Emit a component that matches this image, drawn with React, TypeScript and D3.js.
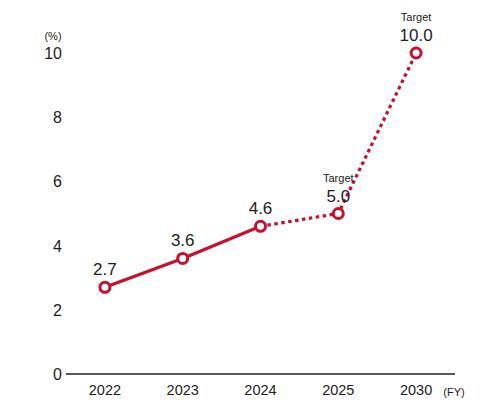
import React from "react";
import * as d3 from "d3";

const categories = ["2022", "2023", "2024", "2025", "2030"];
const values = [2.7, 3.6, 4.6, 5.0, 10.0];
const targetFlags = [false, false, false, true, true];
const yTicks = [0, 2, 4, 6, 8, 10];

const W = 500;
const H = 402;
const RED = "#c8102e";
const FONT = "'Liberation Sans', Arial, Helvetica, sans-serif";

export default function App() {
  const x = d3.scaleBand<string>().domain(categories).range([66, 455]);
  const y = d3.scaleLinear().domain([0, 10]).range([374, 53]);
  const cx = (c: string) => (x(c) as number) + x.bandwidth() / 2;
  const pts = categories.map((c, i) => [cx(c), y(values[i])] as [number, number]);
  const line = d3.line();
  const solid = line(pts.slice(0, 3)) as string;
  const dotted = line(pts.slice(2)) as string;

  return (
    <svg width={W} height={H} style={{ position: "absolute", left: 0, top: 0, background: "#fff" }} fontFamily={FONT}>
      <text x={53} y={40} fontSize={11} textAnchor="middle" fill="#222">(%)</text>
      {yTicks.map((t) => (
        <text key={t} x={62} y={y(t) + 6} fontSize={16} textAnchor="end" fill="#222">{t}</text>
      ))}
      <line x1={66} x2={455} y1={y(0)} y2={y(0)} stroke="#222" strokeWidth={1.5} />
      {categories.map((c) => (
        <text key={c} x={cx(c)} y={395} fontSize={14.5} textAnchor="middle" fill="#222">{c}</text>
      ))}
      <text x={454} y={396} fontSize={11} textAnchor="middle" fill="#222">(FY)</text>
      <path d={solid} fill="none" stroke={RED} strokeWidth={3.2} />
      <path d={dotted} fill="none" stroke={RED} strokeWidth={3.2} strokeDasharray="3.5,3.5" />
      {pts.map(([px, py], i) => (
        <circle key={i} cx={px} cy={py} r={5} fill="#fff" stroke={RED} strokeWidth={3} />
      ))}
      {pts.map(([px, py], i) => (
        <g key={"l" + i}>
          <text x={px} y={py - 12} fontSize={17} textAnchor="middle" fill="#222">{values[i].toFixed(1)}</text>
          {targetFlags[i] && (
            <text x={px} y={py - 32} fontSize={11} textAnchor="middle" fill="#222">Target</text>
          )}
        </g>
      ))}
    </svg>
  );
}
